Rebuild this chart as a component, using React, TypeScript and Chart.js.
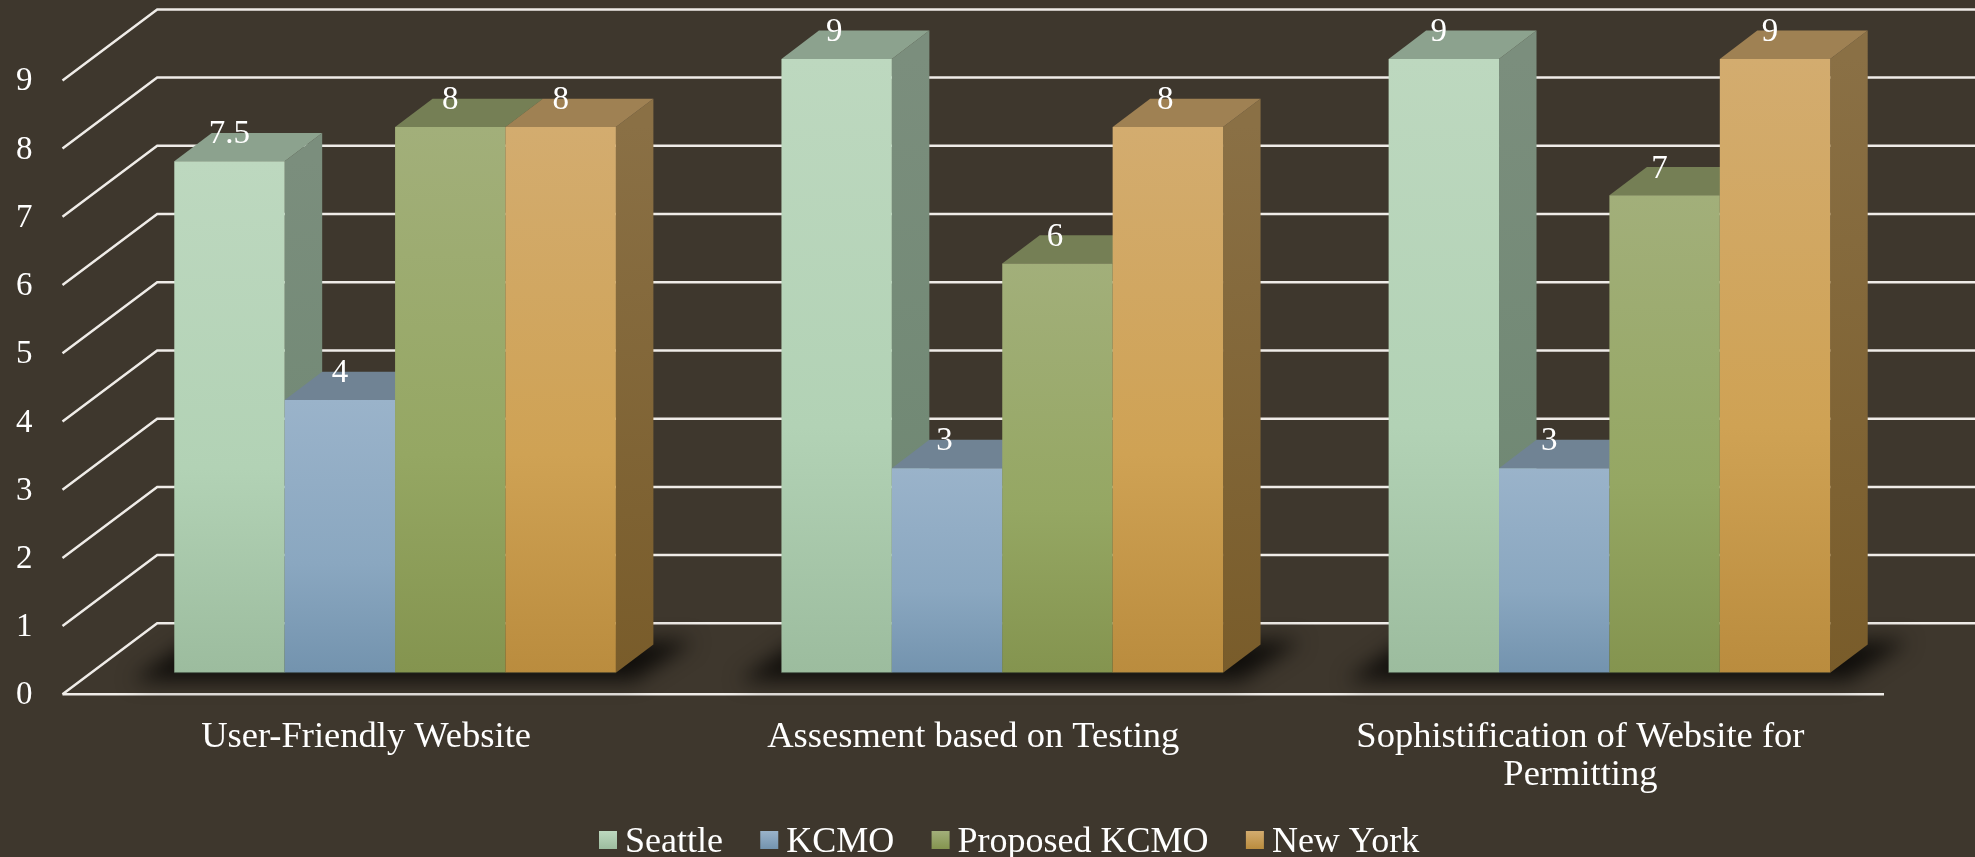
import React, { useEffect, useRef } from "react";
import { Chart, registerables } from "chart.js";

Chart.register(...registerables);

const categories = [
  "User-Friendly Website",
  "Assesment based on Testing",
  ["Sophistification of Website for", "Permitting"],
];
const seattle = [7.5, 9, 9];
const kcmo = [4, 3, 3];
const proposedKcmo = [8, 6, 7];
const newYork = [8, 8, 9];
const seriesNames = ["Seattle", "KCMO", "Proposed KCMO", "New York"];
const yTicks = [0, 1, 2, 3, 4, 5, 6, 7, 8, 9];

const W = 1975;
const H = 857;
const BG = "#3e372d";
const FONT = "'Liberation Serif', serif";
const DEPTH_X = 94.7;
const DEPTH_Y = 71;
const NUDGE = 1.4; // digits sit high in the em box, so the axis is moved down and the marks back up
const BAR_DX = 29;
const BAR_DY = 21.5 + NUDGE;
const BOX_DX = 37.5;
const BOX_DY = 28.3;

const faces = [
  { front: ["#bdd8bf", "#b2d2b5", "#9cbc9e"], side: ["#7b8e7d", "#6c8670"], top: "#8ca28e" },
  { front: ["#9ab3ca", "#8aa7c0", "#7393ae"], side: ["#6f8296", "#566f85"], top: "#708394" },
  { front: ["#a2af7a", "#95a763", "#84944f"], side: ["#72794f", "#5e6a38"], top: "#757f55" },
  { front: ["#d3ac6f", "#cfa254", "#ba8c3e"], side: ["#8a7045", "#795c2a"], top: "#9f8153" },
];

const plugin3d = {
  id: "box3d",
  afterLayout(chart: any) {
    const lg = chart.legend;
    const pad = lg.options.labels.padding;
    const w = lg.right - lg.left;
    lg.left = 589 - pad;
    lg.right = lg.left + w;
    const h = lg.bottom - lg.top;
    lg.top = 842.5 - pad - 18;
    lg.bottom = lg.top + h;
    lg.adjustHitBoxes();
    chart.scales.x.bottom = H;
  },
  beforeDraw(chart: any) {
    const { ctx } = chart;
    ctx.save();
    ctx.fillStyle = BG;
    ctx.fillRect(0, 0, W, H);
    ctx.restore();
  },
  beforeDatasetsDraw(chart: any) {
    const { ctx, chartArea: a, scales } = chart;
    const y = scales.y;

    // walls and floor lines
    ctx.save();
    ctx.strokeStyle = "#efece8";
    ctx.lineWidth = 2.5;
    ctx.lineJoin = "miter";
    for (const t of y.ticks) {
      const py = y.getPixelForValue(t.value) - NUDGE;
      ctx.beginPath();
      ctx.moveTo(a.left, py);
      ctx.lineTo(a.left + DEPTH_X, py - DEPTH_Y);
      ctx.lineTo(a.right + DEPTH_X, py - DEPTH_Y);
      ctx.stroke();
    }
    ctx.beginPath();
    ctx.moveTo(a.left, a.bottom - NUDGE);
    ctx.lineTo(a.right, a.bottom - NUDGE);
    ctx.stroke();
    ctx.restore();

    const metas = chart.data.datasets.map((_: any, i: number) => chart.getDatasetMeta(i));

    // floor shadows
    ctx.save();
    ctx.fillStyle = "#100e0b";
    ctx.filter = "blur(10px)";
    categories.forEach((_, c) => {
      const first = metas[0].data[c];
      const last = metas[metas.length - 1].data[c];
      const l = first.x - first.width / 2 + BAR_DX;
      const r = last.x + last.width / 2 + BAR_DX;
      const b = a.bottom - BAR_DY;
      ctx.beginPath();
      ctx.moveTo(l - 42, b + 8);
      ctx.lineTo(r + 18, b + 8);
      ctx.lineTo(r + 78, b - 32);
      ctx.lineTo(l + 16, b - 32);
      ctx.closePath();
      ctx.fill();
    });
    ctx.restore();

    // boxes, left to right, so each one covers its neighbour's side
    metas.forEach((meta: any, d: number) => {
      const f = faces[d];
      ctx.save();
      ctx.translate(BAR_DX, -BAR_DY);
      meta.data.forEach((el: any) => {
        const l = el.x - el.width / 2;
        const r = el.x + el.width / 2;
        const t = el.y;
        const b = el.base;
        const sg = ctx.createLinearGradient(r, t, r + BOX_DX, b);
        sg.addColorStop(0, f.side[0]);
        sg.addColorStop(1, f.side[1]);
        ctx.fillStyle = sg;
        ctx.beginPath();
        ctx.moveTo(r, t);
        ctx.lineTo(r + BOX_DX, t - BOX_DY);
        ctx.lineTo(r + BOX_DX, b - BOX_DY);
        ctx.lineTo(r, b);
        ctx.closePath();
        ctx.fill();
        ctx.fillStyle = f.top;
        ctx.beginPath();
        ctx.moveTo(l, t);
        ctx.lineTo(l + BOX_DX, t - BOX_DY);
        ctx.lineTo(r + BOX_DX, t - BOX_DY);
        ctx.lineTo(r, t);
        ctx.closePath();
        ctx.fill();
        el.draw(ctx);
        // thin dark edge along the foot of the box
        ctx.strokeStyle = "rgba(40,48,40,0.55)";
        ctx.lineWidth = 1.2;
        ctx.beginPath();
        ctx.moveTo(l, b);
        ctx.lineTo(r, b);
        ctx.stroke();
      });
      ctx.restore();
    });

    // value labels
    ctx.save();
    ctx.font = `33px ${FONT}`;
    ctx.fillStyle = "#ffffff";
    ctx.textAlign = "center";
    ctx.textBaseline = "middle";
    metas.forEach((meta: any, d: number) => {
      meta.data.forEach((el: any, c: number) => {
        const v = chart.data.datasets[d].data[c];
        ctx.fillText(String(v), el.x + BAR_DX - 2.5 * c, el.y - 21 - BOX_DY);
      });
    });
    ctx.restore();

    // legend swatches
    ctx.save();
    const top = 831;
    chart.legend.legendHitBoxes.forEach((h: any, i: number) => {
      const g = ctx.createLinearGradient(0, top, 0, top + 18);
      g.addColorStop(0, faces[i].front[0]);
      g.addColorStop(1, faces[i].front[2]);
      ctx.fillStyle = g;
      ctx.fillRect(h.left + 10, top, 18, 18);
    });
    ctx.restore();
    return false;
  },
};

function barFill(d: number) {
  return (c: any) => {
    const f = faces[d].front;
    if (c.type !== "data" || !c.chart.scales.y) return f[1];
    const y = c.chart.scales.y;
    const g = c.chart.ctx.createLinearGradient(0, y.getPixelForValue(c.parsed.y), 0, y.getPixelForValue(0));
    g.addColorStop(0, f[0]);
    g.addColorStop(0.6, f[1]);
    g.addColorStop(1, f[2]);
    return g;
  };
}

export default function App() {
  const ref = useRef<HTMLCanvasElement>(null);
  useEffect(() => {
    document.body.style.margin = "0";
    document.body.style.background = BG;
    const series = [seattle, kcmo, proposedKcmo, newYork];
    const chart = new Chart(ref.current as HTMLCanvasElement, {
      type: "bar",
      data: {
        labels: categories as any,
        datasets: series.map((data, i) => ({
          label: seriesNames[i],
          data,
          backgroundColor: barFill(i),
          borderWidth: 0,
          barPercentage: 1,
          categoryPercentage: 0.7273,
        })),
      },
      options: {
        responsive: false,
        animation: false,
        devicePixelRatio: 1,
        layout: { padding: { left: 0, top: 80.4 + NUDGE, right: 91, bottom: 0 } },
        plugins: {
          title: { display: false },
          tooltip: { enabled: false },
          legend: {
            position: "bottom",
            align: "start",
            labels: {
              boxWidth: 18,
              boxHeight: 18,
              padding: 27.3,
              color: "#ffffff",
              font: { family: FONT, size: 36 },
              generateLabels: (chart: any) =>
                chart.data.datasets.map((d: any, i: number) => ({
                  text: d.label,
                  fillStyle: "rgba(0,0,0,0)",
                  strokeStyle: "rgba(0,0,0,0)",
                  lineWidth: 0,
                  fontColor: "#ffffff",
                  datasetIndex: i,
                })),
            },
          },
        },
        scales: {
          x: {
            grid: { display: false, drawTicks: false },
            border: { display: false },
            ticks: {
              color: "#ffffff",
              font: { family: FONT, size: 36.5, lineHeight: 1.04 },
              padding: 22.6,
              maxRotation: 0,
              autoSkip: false,
            },
            afterFit: (s: any) => {
              s.height = H - (694.3 + NUDGE) - s.chart.legend.height;
            },
          },
          y: {
            min: 0,
            max: 9,
            grid: { display: false, drawTicks: false },
            border: { display: false },
            afterBuildTicks: (s: any) => {
              s.ticks = yTicks.map((value) => ({ value }));
            },
            ticks: {
              color: "#ffffff",
              font: { family: FONT, size: 33 },
              padding: 30,
            },
            afterFit: (s: any) => {
              s.width = 62.5;
            },
          },
        },
      } as any,
      plugins: [plugin3d as any],
    });
    return () => chart.destroy();
  }, []);
  return <canvas ref={ref} width={W} height={H} style={{ display: "block" }} />;
}
